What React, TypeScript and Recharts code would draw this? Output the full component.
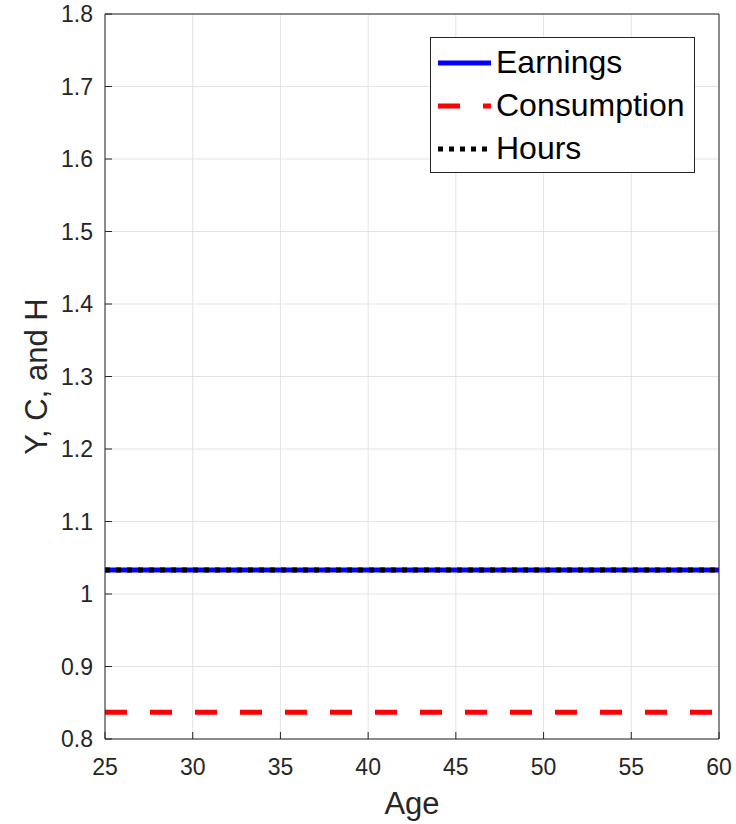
import React from 'react';
import { LineChart, Line, XAxis, YAxis, CartesianGrid, Legend } from 'recharts';

// Age grid (years)
const ages = [
  25, 26, 27, 28, 29, 30, 31, 32, 33, 34, 35, 36, 37, 38, 39, 40, 41, 42,
  43, 44, 45, 46, 47, 48, 49, 50, 51, 52, 53, 54, 55, 56, 57, 58, 59, 60,
];

// Life-cycle profiles
const earnings = [
  1.033, 1.033, 1.033, 1.033, 1.033, 1.033, 1.033, 1.033, 1.033, 1.033, 1.033, 1.033,
  1.033, 1.033, 1.033, 1.033, 1.033, 1.033, 1.033, 1.033, 1.033, 1.033, 1.033, 1.033,
  1.033, 1.033, 1.033, 1.033, 1.033, 1.033, 1.033, 1.033, 1.033, 1.033, 1.033, 1.033,
];
const consumption = [
  0.837, 0.837, 0.837, 0.837, 0.837, 0.837, 0.837, 0.837, 0.837, 0.837, 0.837, 0.837,
  0.837, 0.837, 0.837, 0.837, 0.837, 0.837, 0.837, 0.837, 0.837, 0.837, 0.837, 0.837,
  0.837, 0.837, 0.837, 0.837, 0.837, 0.837, 0.837, 0.837, 0.837, 0.837, 0.837, 0.837,
];
const hours = [
  1.033, 1.033, 1.033, 1.033, 1.033, 1.033, 1.033, 1.033, 1.033, 1.033, 1.033, 1.033,
  1.033, 1.033, 1.033, 1.033, 1.033, 1.033, 1.033, 1.033, 1.033, 1.033, 1.033, 1.033,
  1.033, 1.033, 1.033, 1.033, 1.033, 1.033, 1.033, 1.033, 1.033, 1.033, 1.033, 1.033,
];

const xTicks = [25, 30, 35, 40, 45, 50, 55, 60];
const yTicks = [0.8, 0.9, 1.0, 1.1, 1.2, 1.3, 1.4, 1.5, 1.6, 1.7, 1.8];

const seriesMeta = [
  { key: 'earnings', name: 'Earnings', color: '#0000ff', dash: undefined as string | undefined },
  { key: 'consumption', name: 'Consumption', color: '#ff0000', dash: '22 23' },
  { key: 'hours', name: 'Hours', color: '#000000', dash: '5 6' },
];

const data = ages.map((age, i) => ({
  age,
  earnings: earnings[i],
  consumption: consumption[i],
  hours: hours[i],
}));

const FONT = '"Liberation Sans", Arial, Helvetica, sans-serif';
const AXIS = '#262626';
const GRID = '#e3e3e3';

const fmt = (v: number) => String(Number(v.toFixed(1)));

const LegendBox = () => (
  <div
    style={{
      width: 265,
      height: 136,
      boxSizing: 'border-box',
      border: `1px solid ${AXIS}`,
      background: '#fff',
      paddingTop: 3,
      fontFamily: FONT,
      fontSize: 32,
      color: '#000',
    }}
  >
    {seriesMeta.map((s) => (
      <div key={s.key} style={{ height: 43, display: 'flex', alignItems: 'center' }}>
        <svg width={65} height={12} style={{ flex: 'none' }}>
          <line
            x1={7}
            x2={60}
            y1={6}
            y2={6}
            stroke={s.color}
            strokeWidth={5}
            strokeDasharray={s.dash}
          />
        </svg>
        <span style={{ lineHeight: '43px', whiteSpace: 'nowrap' }}>{s.name}</span>
      </div>
    ))}
  </div>
);

const YLabel = (props: any) => {
  const vb = props.viewBox || {};
  const cx = 36;
  const cy = (vb.y ?? 14) + (vb.height ?? 725) / 2;
  return (
    <text
      x={cx}
      y={cy}
      transform={`rotate(-90 ${cx} ${cy})`}
      textAnchor="middle"
      dominantBaseline="central"
      fontFamily={FONT}
      fontSize={31}
      fill={AXIS}
    >
      Y, C, and H
    </text>
  );
};

const XLabel = (props: any) => {
  const vb = props.viewBox || {};
  const cx = (vb.x ?? 105) + (vb.width ?? 614) / 2;
  return (
    <text
      x={cx}
      y={803}
      textAnchor="middle"
      dominantBaseline="central"
      fontFamily={FONT}
      fontSize={31}
      fill={AXIS}
    >
      Age
    </text>
  );
};

export default function App() {
  return (
    <div style={{ position: 'absolute', left: 0, top: 0, width: 736, height: 824, background: '#fff' }}>
      <LineChart
        width={736}
        height={824}
        data={data}
        margin={{ top: 13, right: 16, bottom: 0, left: 0 }}
      >
        <CartesianGrid
          xAxisId="b"
          yAxisId="l"
          stroke={GRID}
          strokeWidth={1}
          horizontalValues={yTicks}
          verticalValues={xTicks}
        />
        <XAxis
          xAxisId="b"
          dataKey="age"
          type="number"
          domain={[25, 60]}
          ticks={xTicks}
          interval={0}
          height={85}
          tickSize={-7}
          tickMargin={27}
          stroke={AXIS}
          axisLine={{ stroke: AXIS, strokeWidth: 1 }}
          tickLine={{ stroke: AXIS }}
          tick={{ fill: AXIS, fontSize: 23, fontFamily: FONT }}
          label={<XLabel />}
        />
        <XAxis
          xAxisId="t"
          orientation="top"
          dataKey="age"
          type="number"
          domain={[25, 60]}
          ticks={xTicks}
          interval={0}
          height={1}
          tickSize={-7}
          stroke={AXIS}
          axisLine={{ stroke: AXIS, strokeWidth: 1 }}
          tickLine={{ stroke: AXIS }}
          tick={false}
        />
        <YAxis
          yAxisId="l"
          type="number"
          domain={[0.8, 1.8]}
          ticks={yTicks}
          interval={0}
          width={105}
          tickSize={-7}
          tickMargin={19}
          tickFormatter={fmt}
          stroke={AXIS}
          axisLine={{ stroke: AXIS, strokeWidth: 1 }}
          tickLine={{ stroke: AXIS }}
          tick={{ fill: AXIS, fontSize: 23, fontFamily: FONT }}
          label={<YLabel />}
        />
        <YAxis
          yAxisId="r"
          orientation="right"
          type="number"
          domain={[0.8, 1.8]}
          ticks={yTicks}
          interval={0}
          width={1}
          tickSize={-7}
          stroke={AXIS}
          axisLine={{ stroke: AXIS, strokeWidth: 1 }}
          tickLine={{ stroke: AXIS }}
          tick={false}
        />
        {seriesMeta.map((s) => (
          <Line
            key={s.key}
            xAxisId="b"
            yAxisId="l"
            type="linear"
            dataKey={s.key}
            name={s.name}
            stroke={s.color}
            strokeWidth={5}
            strokeDasharray={s.dash}
            dot={false}
            activeDot={false}
            isAnimationActive={false}
          />
        ))}
        <Legend
          layout="vertical"
          align="center"
          verticalAlign="middle"
          content={() => <LegendBox />}
          wrapperStyle={{ position: 'absolute', left: 430, top: 37, width: 265, height: 136 }}
        />
      </LineChart>
    </div>
  );
}
